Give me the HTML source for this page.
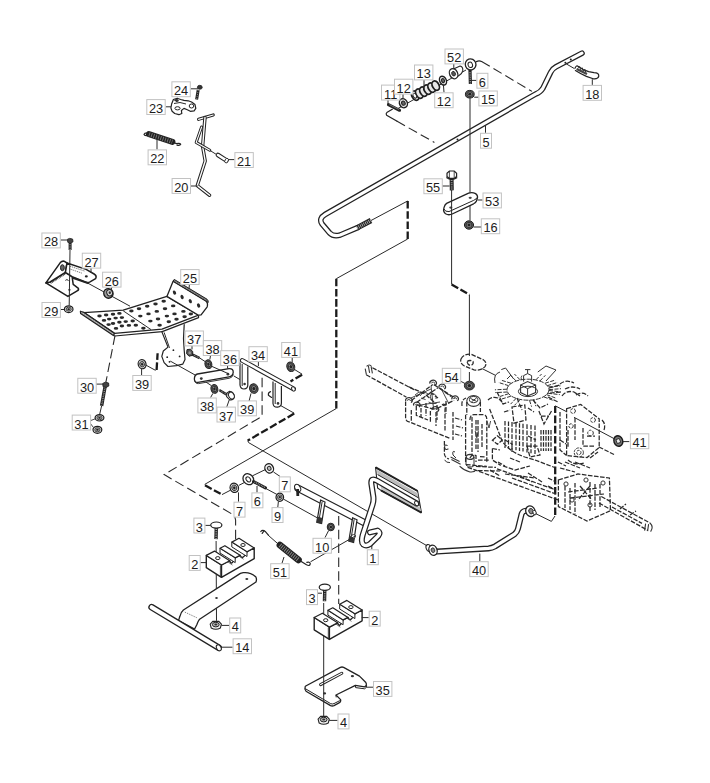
<!DOCTYPE html>
<html><head><meta charset="utf-8"><title>Parts diagram</title><style>
*{margin:0;padding:0}
html,body{width:710px;height:783px;background:#fff;overflow:hidden}
svg{display:block}
.lb{fill:#fff;stroke:#c2c2c2;stroke-width:1}
.lt{font-family:"Liberation Sans",sans-serif;font-size:13.6px;fill:#1c1c1c;text-anchor:middle}
.ln{fill:none;stroke:#222;stroke-width:1.2;stroke-linejoin:round;stroke-linecap:round}
.th{fill:none;stroke:#2a2a2a;stroke-width:1}
.dsh{fill:none;stroke:#2a2a2a;stroke-width:1.1;stroke-dasharray:9.5 4.3}
.dsh2{fill:none;stroke:#2a2a2a;stroke-width:1;stroke-dasharray:3.5 2}
.hd{fill:none;stroke:#1a1a1a;stroke-width:2.3;stroke-dasharray:7.6 2.6}
.ph{fill:none;stroke:#2a2a2a;stroke-width:1.25;stroke-dasharray:4.6 1.5}
</style></head>
<body><svg width="710" height="783" viewBox="0 0 710 783">
<rect width="710" height="783" fill="#fff"/>
<path d="M190.8,88.8 L198.0,88.8" class="th"/>
<path d="M198.2,90 L196.6,99.6" stroke="#222" stroke-width="3" fill="none"/>
<path d="M198.2,90 L196.6,99.6" stroke="#888" stroke-width="1" fill="none" stroke-dasharray="1 1"/>
<ellipse cx="199.8" cy="87.3" rx="2.4" ry="2" fill="#333" stroke="#222" stroke-width="0.8"/>
<path d="M173.4,99.5 L177.2,98.2 L180.6,99.5 L184,100.4 L188.2,100.8 L191.6,102 L195,104.6 L195.8,108.4 L194.1,110.9 L190.3,111.3 L187.3,109.7 L184,108.4 L181.4,110.5 L181.8,113.5 L178.9,114.7 L174.7,113.5 L172.1,111.3 L170.9,108 L171.7,103.7 Z" class="ln" fill="#fff" stroke-width="1.3"/>
<path d="M174,103.5 L180,102.5 L186,104 M176,101.5 L178.5,101 " class="th" />
<ellipse cx="177.5" cy="108.3" rx="2.6" ry="1.6" fill="#fff" stroke="#222" stroke-width="1"/>
<ellipse cx="191.5" cy="106" rx="2.3" ry="2" fill="#fff" stroke="#222" stroke-width="1"/>
<ellipse cx="176.5" cy="100.2" rx="2" ry="1.2" fill="#333"/>
<path d="M165.8,106.8 L171.0,106.8" class="th"/>
<path d="M149,134.2 L172.4,141.8" stroke="#222" stroke-width="6" stroke-linecap="round" fill="none"/>
<path d="M149,134.2 L172.4,141.8" stroke="#7a7a7a" stroke-width="4.2" stroke-dasharray="0.9 1.5" fill="none"/>
<path d="M148.5,133 Q144.5,132.6 144,134.4 Q144.3,135.8 147,135.5" class="ln" />
<path d="M173,142.3 L176.5,143.6 Q180,142.8 180.7,144.3 Q180,145.9 177,145.1" class="ln" />
<path d="M157.0,138.0 L157.0,149.4" class="th"/>
<path d="M198.6,119.3 L213.2,115" fill="none" stroke="#222" stroke-width="3.2" stroke-linecap="round" stroke-linejoin="round"/>
<path d="M198.6,119.3 L213.2,115" fill="none" stroke="#fff" stroke-width="1.2000000000000002" stroke-linecap="round" stroke-linejoin="round"/>
<path d="M205,117.5 L202.6,146.4 L205.2,161 L197.3,185.6 L209.6,195.3" fill="none" stroke="#222" stroke-width="3.4" stroke-linecap="round" stroke-linejoin="round"/>
<path d="M205,117.5 L202.6,146.4 L205.2,161 L197.3,185.6 L209.6,195.3" fill="none" stroke="#fff" stroke-width="1.4" stroke-linecap="round" stroke-linejoin="round"/>
<path d="M201.6,127 L196.2,142.4 L209.8,150.3" fill="none" stroke="#222" stroke-width="3.0" stroke-linecap="round" stroke-linejoin="round"/>
<path d="M201.6,127 L196.2,142.4 L209.8,150.3" fill="none" stroke="#fff" stroke-width="1.1" stroke-linecap="round" stroke-linejoin="round"/>
<path d="M209.8,150.3 L217.5,155.2" class="th"/>
<path d="M218,155 L226.3,160.4" stroke="#222" stroke-width="4.6" stroke-linecap="round" fill="none"/>
<path d="M218,155 L226.3,160.4" stroke="#fff" stroke-width="2.6" stroke-linecap="round" fill="none"/>
<ellipse cx="226.6" cy="160.6" rx="1.6" ry="2.4" transform="rotate(33 226.6 160.6)" fill="#fff" stroke="#222" stroke-width="0.9"/>
<path d="M228.5,159.6 L234.4,159.6" class="th"/>
<path d="M190.5,186.0 L197.8,186.0" class="th"/>
<path d="M582,53.2 L556,66.8 Q552.2,68.8 550.6,72.4 L542.8,88.4 Q540.6,92.2 535.5,94.1 L325.4,214.3 Q318.4,218.5 322,223.9 L329.6,232.9 Q333.8,237 340.2,235 L357.6,227.6" fill="none" stroke="#222" stroke-width="5.6" stroke-linecap="round" stroke-linejoin="round"/>
<path d="M582,53.2 L556,66.8 Q552.2,68.8 550.6,72.4 L542.8,88.4 Q540.6,92.2 535.5,94.1 L325.4,214.3 Q318.4,218.5 322,223.9 L329.6,232.9 Q333.8,237 340.2,235 L357.6,227.6" fill="none" stroke="#fff" stroke-width="3.0999999999999996" stroke-linecap="round" stroke-linejoin="round"/>
<path d="M357,227.9 L371,220.5" stroke="#222" stroke-width="5.4" fill="none"/>
<path d="M357,227.9 L371,220.5" stroke="#bbb" stroke-width="3.4" stroke-dasharray="0.8 1.1" fill="none"/>
<circle cx="457.5" cy="139.6" r="1" fill="#222"/>
<circle cx="565.4" cy="62.8" r="1" fill="#222"/><circle cx="570.8" cy="59.6" r="1" fill="#222"/>
<path d="M485.5,125.5 L485.5,132.8" class="th"/>
<path d="M566.5,64.0 L574.4,68.6" class="th"/>
<path d="M575,68.2 Q576.4,64.6 578.4,66.6 L583.2,69.6 Q586,70.4 588.6,71.6 L594,72.6 Q599,72.8 598.8,76.2 Q598,79.4 593.2,78.8 L586.4,76.4 Q580,73.6 575.4,70.6" class="ln" stroke-width="1.3"/>
<path d="M578,68.4 L579.6,66.6 L580.6,69.6 L582.2,67.8 L583.2,71 L585,69.4 L585.8,72.4" class="th" />
<path d="M576.6,69 L587,74" stroke="#444" stroke-width="2.2" fill="none"/>
<path d="M592.3,79.2 L592.3,84.9" class="th"/>
<path d="M392.3,109.3 L386.8,112.6 Q385.6,113.6 386.6,115.2 L396.7,121.1" class="ln" />
<path d="M396.7,121.1 L434.4,142.4" class="dsh" />
<path d="M476.4,61.6 Q479,60.4 481.6,61.5" class="ln" />
<path d="M481.6,61.5 L532,91.4" class="dsh" />
<path d="M398.0,108.5 L466.0,70.0" class="th"/>
<path d="M388.4,104.6 L399.6,110.3" stroke="#222" stroke-width="3" stroke-linecap="round" fill="none"/>
<path d="M389.4,104.6 L399,109.5" stroke="#888" stroke-width="0.8" fill="none"/>
<g transform="translate(403.4,103.2) rotate(-25)"><ellipse rx="3.9" ry="4.7" fill="#e4e4e4" stroke="#1e1e1e" stroke-width="1.4"/><ellipse rx="1.75" ry="2.12" fill="#666" stroke="#222" stroke-width="1"/></g>
<ellipse cx="415.2" cy="95.6" rx="3.3" ry="5" transform="rotate(-28 415.2 95.6)" fill="#e8e8e8" stroke="#1e1e1e" stroke-width="1.75"/>
<ellipse cx="419.3" cy="93.6" rx="3.3" ry="5" transform="rotate(-28 419.3 93.6)" fill="#e8e8e8" stroke="#1e1e1e" stroke-width="1.75"/>
<ellipse cx="423.4" cy="91.6" rx="3.3" ry="5" transform="rotate(-28 423.4 91.6)" fill="#e8e8e8" stroke="#1e1e1e" stroke-width="1.75"/>
<ellipse cx="427.5" cy="89.6" rx="3.3" ry="5" transform="rotate(-28 427.5 89.6)" fill="#e8e8e8" stroke="#1e1e1e" stroke-width="1.75"/>
<ellipse cx="431.6" cy="87.6" rx="3.3" ry="5" transform="rotate(-28 431.6 87.6)" fill="#e8e8e8" stroke="#1e1e1e" stroke-width="1.75"/>
<ellipse cx="435.7" cy="85.6" rx="3.3" ry="5" transform="rotate(-28 435.7 85.6)" fill="#e8e8e8" stroke="#1e1e1e" stroke-width="1.75"/>
<ellipse cx="414.8" cy="95.8" rx="1.6" ry="2.5" transform="rotate(-28 414.8 95.8)" fill="#fff" stroke="#222" stroke-width="0.9"/>
<g transform="translate(443,80.6) rotate(-25)"><ellipse rx="3.3" ry="4.6" fill="#e4e4e4" stroke="#1e1e1e" stroke-width="1.4"/><ellipse rx="1.48" ry="2.07" fill="#666" stroke="#222" stroke-width="1"/></g>
<path d="M453.5,69 L460,66 Q463,66.5 462.8,70.5 Q462,74 459,75.5 L455,78" fill="#fff" stroke="#222" stroke-width="1.1"/>
<ellipse cx="453.6" cy="73.7" rx="4" ry="5.3" transform="rotate(-25 453.6 73.7)" fill="#fff" stroke="#222" stroke-width="1.3"/>
<ellipse cx="453.6" cy="73.7" rx="1.8" ry="2.4" transform="rotate(-25 453.6 73.7)" fill="#555" stroke="#222" stroke-width="0.8"/>
<ellipse cx="470.6" cy="64.4" rx="5.3" ry="5.6" transform="rotate(-20 470.6 64.4)" fill="#fff" stroke="#222" stroke-width="1.3"/>
<ellipse cx="470.3" cy="64.8" rx="2.2" ry="2.8" transform="rotate(-20 470.3 64.8)" fill="#fff" stroke="#222" stroke-width="1"/>
<path d="M470,69.8 L470.4,84" stroke="#222" stroke-width="3.2" fill="none"/>
<path d="M470,72 L470.4,84" stroke="#aaa" stroke-width="1.4" stroke-dasharray="0.8 1" fill="none"/>
<path d="M470.8,80.4 L476.4,80.4" class="th"/>
<g transform="translate(469.8,94.2) rotate(0)"><ellipse rx="4.4" ry="3.8" fill="#555" stroke="#222" stroke-width="1"/><ellipse rx="2.73" ry="2.36" fill="#999" stroke="#222" stroke-width="0.8"/><ellipse rx="1.56" ry="1.35" fill="#222"/></g>
<path d="M474.2,97.2 L478.4,97.2" class="th"/>
<path d="M453.8,64.1 L453.8,69.2" class="th"/>
<path d="M424.0,80.1 L424.0,89.0" class="th"/>
<path d="M403.0,94.3 L403.0,98.3" class="th"/>
<path d="M388.0,100.2 L388.0,104.0" class="th"/>
<path d="M444.0,92.3 L443.4,84.8" class="th"/>
<path d="M470.0,98.0 L470.0,220.5" class="th"/>
<path d="M451.6,178.5 L451.8,190.4" stroke="#222" stroke-width="4" fill="none"/>
<path d="M451.6,180 L451.8,190.4" stroke="#999" stroke-width="1.8" stroke-dasharray="0.9 1" fill="none"/>
<path d="M447,173.2 L449.4,171 L454.2,171 L456.6,173.2 L456.6,176.6 L454.2,178.4 L449.4,178.4 L447,176.6 Z" fill="#fff" stroke="#222" stroke-width="1.2"/>
<path d="M449.4,171 L449.4,178.4 M454.2,171 L454.2,178.4" stroke="#222" stroke-width="0.8" fill="none"/>
<path d="M446.4,177.4 Q451.8,181.4 457.2,177.4" fill="none" stroke="#222" stroke-width="1.2"/>
<path d="M442.0,186.0 L449.5,186.0" class="th"/>
<path d="M446.6,203.4 L468.6,193.2 Q472,191.8 475.6,193.6 Q478.4,195.6 477.2,198.8 L476.3,201.4 Q475.4,202.8 473.6,203.8 L452.2,214 Q448.6,215.6 445.6,213.8 Q442.8,211.6 444,207.6 Q444.8,204.6 446.6,203.4 Z" fill="#fff" stroke="#222" stroke-width="1.3"/>
<path d="M444,209 Q445,212 449,211.6 L473.6,200.4 Q476.6,199 477.2,197.4" fill="none" stroke="#222" stroke-width="1"/>
<ellipse cx="450.8" cy="207.6" rx="1.6" ry="1.1" fill="#444"/><ellipse cx="470.2" cy="197.8" rx="1.6" ry="1.1" fill="#444"/>
<path d="M477.6,200.0 L482.5,200.0" class="th"/>
<g transform="translate(469,225) rotate(0)"><ellipse rx="4.6" ry="4.2" fill="#555" stroke="#222" stroke-width="1"/><ellipse rx="2.85" ry="2.60" fill="#999" stroke="#222" stroke-width="0.8"/><ellipse rx="1.64" ry="1.49" fill="#222"/></g>
<path d="M473.6,227.0 L482.0,227.0" class="th"/>
<path d="M451.6,190.0 L451.6,284.4" class="th"/>
<path d="M451.6,284.4 L469.4,294.7" class="hd" />
<path d="M469.4,294.7 L469.4,356.0" class="th"/>
<path d="M461,359 Q464,353.6 471,354.2 L483,359.6 Q487.6,362.6 485,366.6 Q481,371 474,369.8 L464.4,366 Q459.6,363 461,359 Z" class="ph" />
<path d="M467,361.5 Q470,359.5 473,361.5 Q474,364.5 470.5,365.6 Q467.5,365 467,361.5" class="ph" />
<path d="M469.4,372.0 L469.4,381.0" class="th"/>
<g transform="translate(469.4,385.6) rotate(0)"><ellipse rx="5" ry="4.4" fill="#555" stroke="#222" stroke-width="1"/><ellipse rx="3.10" ry="2.73" fill="#999" stroke="#222" stroke-width="0.8"/><ellipse rx="1.78" ry="1.56" fill="#222"/></g>
<path d="M460.2,381.0 L465.0,383.5" class="th"/>
<path d="M371.0,220.5 L407.6,201.0" class="th"/>
<path d="M407.7,201 L407.7,239" class="hd" />
<path d="M407.7,239.0 L336.3,278.7" class="th"/>
<path d="M336.3,278.7 L336.3,408.5" class="hd" />
<path d="M336.3,408.5 L204.7,484.4" class="th"/>
<path d="M205,485.3 L222,494.6" class="hd" />
<path d="M222.0,494.6 L230.5,490.2" class="th"/>
<path d="M278.4,404.3 L294.2,413.2" class="th"/>
<path d="M294.2,413.6 L247.7,440.6" class="hd" />
<path d="M247.7,440.6 L248.6,442.6 L426.0,545.2" class="th"/>
<path d="M262.1,377.7 L262.1,416.3 L164.1,474.6 L234.5,515.5 L235.6,520 L235.6,546" class="dsh" />
<path d="M294.2,369.3 L302.1,374.2" class="th"/>
<path d="M302.1,374.7 L290.5,381.5" class="hd" />
<path d="M258.4,361.7 L258.4,366.0" class="th"/>
<path d="M240,362.5 L240,385 Q240.5,389 244,389 Q247.8,388.6 247.8,385 L247.8,366.5" fill="#fff" stroke="#222" stroke-width="1.2"/>
<path d="M242.2,364.0 L242.2,386.0" class="th"/>
<circle cx="244.6" cy="384" r="1.3" fill="#333"/>
<path d="M273,381.5 L273,403.5 Q273.5,407.4 277.5,407.2 Q281.4,406.8 281.4,403 L281.4,386" fill="#fff" stroke="#222" stroke-width="1.2"/>
<path d="M275.2,383.0 L275.2,404.0" class="th"/>
<circle cx="278" cy="403.4" r="1.3" fill="#333"/>
<path d="M270.5,391.6 Q268,392.5 268.4,395.2 L271.6,397.4" class="ln" />
<path d="M242.3,360.5 L293.5,388.8" fill="none" stroke="#222" stroke-width="4.8" stroke-linecap="round" stroke-linejoin="round"/>
<path d="M242.3,360.5 L293.5,388.8" fill="none" stroke="#fff" stroke-width="2.6999999999999997" stroke-linecap="round" stroke-linejoin="round"/>
<ellipse cx="293.4" cy="388.9" rx="1.6" ry="2.3" transform="rotate(-30 293.4 388.9)" fill="#fff" stroke="#222" stroke-width="0.9"/>
<g transform="translate(253.8,388.6) rotate(-15)"><ellipse rx="4.2" ry="4.8" fill="#555" stroke="#222" stroke-width="1"/><ellipse rx="2.60" ry="2.98" fill="#999" stroke="#222" stroke-width="0.8"/><ellipse rx="1.49" ry="1.71" fill="#222"/></g>
<path d="M251.0,393.4 L248.8,402.1" class="th"/>
<g transform="translate(290.8,366.8) rotate(-20)"><ellipse rx="3.9" ry="4.9" fill="#555" stroke="#222" stroke-width="1"/><ellipse rx="2.42" ry="3.04" fill="#999" stroke="#222" stroke-width="0.8"/><ellipse rx="1.39" ry="1.74" fill="#222"/></g>
<path d="M292.2,357.6 L292.2,362.0" class="th"/>
<path d="M161.8,331.6 L168,347.1 L163.3,351 L161.8,356.4 L164.1,362.6 L168,366.5 L176.5,365.7 L182.7,364.2 L185,359.5 L184.2,350.2 L183.5,338.6 L184.2,324.6" class="ln" fill="#fff" stroke-width="1.3"/>
<path d="M164.1,332.4 L169.5,347.9" class="th"/>
<circle cx="167.2" cy="357.2" r="0.9" fill="#222"/>
<circle cx="169.5" cy="361.8" r="0.9" fill="#222"/>
<circle cx="173.4" cy="350.2" r="0.9" fill="#222"/>
<circle cx="179.6" cy="356.4" r="0.9" fill="#222"/>
<path d="M170.3,361.1 L195.1,375.0" class="th"/>
<path d="M197.5,374 L229,368.6 Q233.6,368.4 233.2,372.6 Q232.6,376.2 229,376.8 L198,382.4 Q194,382.8 194.4,378.4 Q194.8,374.6 197.5,374 Z" fill="#fff" stroke="#222" stroke-width="1.3"/>
<path d="M194.6,379.8 Q195.2,384 198.6,383.6 L229.6,378.2 Q232.8,377.4 233.2,374" fill="none" stroke="#222" stroke-width="0.9"/>
<circle cx="201.3" cy="378.6" r="1.4" fill="#333"/><circle cx="227.9" cy="374.2" r="1.4" fill="#333"/>
<path d="M233.6,375.8 L240.0,379.6" class="th"/>
<path d="M227.6,365.8 L227.6,368.6" class="th"/>
<path d="M199.7,358.0 L205.0,361.5" class="th"/>
<path d="M211.0,366.0 L228.0,373.5" class="th"/>
<path d="M192,354.4 L199.7,358.2" stroke="#222" stroke-width="2.6" fill="none"/>
<path d="M192.5,354.6 L199.5,358" stroke="#aaa" stroke-width="1" stroke-dasharray="0.8 0.9" fill="none"/>
<path d="M187,349.6 L190.6,349.2 L192.8,351.8 L192.4,355.4 L189,356.2 L186.6,353.6 Z" fill="#555" stroke="#222" stroke-width="1"/>
<ellipse cx="189.7" cy="352.7" rx="1.3" ry="1.5" fill="#999"/>
<path d="M192.0,345.1 L192.0,349.4" class="th"/>
<g transform="translate(208.4,364.2) rotate(-15)"><ellipse rx="3.4" ry="4.4" fill="#555" stroke="#222" stroke-width="1"/><ellipse rx="2.11" ry="2.73" fill="#999" stroke="#222" stroke-width="0.8"/><ellipse rx="1.21" ry="1.56" fill="#222"/></g>
<path d="M210.6,355.2 L209.8,359.6" class="th"/>
<path d="M205.9,382.0 L211.0,385.4" class="th"/>
<g transform="translate(214.4,388.9) rotate(-15)"><ellipse rx="3.4" ry="4.4" fill="#555" stroke="#222" stroke-width="1"/><ellipse rx="2.11" ry="2.73" fill="#999" stroke="#222" stroke-width="0.8"/><ellipse rx="1.21" ry="1.56" fill="#222"/></g>
<path d="M219.2,390 L226.8,394.6" stroke="#222" stroke-width="2.6" fill="none"/>
<path d="M219.4,390.2 L226.6,394.4" stroke="#aaa" stroke-width="1" stroke-dasharray="0.8 0.9" fill="none"/>
<path d="M227,393 L229.5,391.4 Q234.6,392.4 234.2,397.2 Q233,400.6 229.4,399.6 L226.6,396.6 Z" fill="#fff" stroke="#222" stroke-width="1.1"/>
<ellipse cx="231.4" cy="395.6" rx="2.6" ry="3.6" transform="rotate(-30 231.4 395.6)" fill="#fff" stroke="#222" stroke-width="1"/>
<path d="M212.9,393.4 L210.6,397.5" class="th"/>
<path d="M229.2,400.0 L226.8,406.8" class="th"/>
<g transform="translate(142.1,364.2) rotate(-15)"><ellipse rx="3.9" ry="4.6" fill="#e6e6e6" stroke="#1e1e1e" stroke-width="1.2"/><ellipse rx="2.34" ry="2.76" fill="#aaa" stroke="#333" stroke-width="0.9"/><ellipse rx="1.09" ry="1.29" fill="#222"/></g>
<path d="M141.6,368.8 L141.6,375.0" class="th"/>
<path d="M145.5,364.9 L155.6,370.4" class="th"/>
<path d="M156.6,370 L157.6,353.3" class="hd" />
<path d="M84,312.6 L123.2,310.2 L166.9,296.4 L198.5,315.2 L162,329.2 L114.6,333.4 Z" fill="#fff" stroke="#222" stroke-width="1.3" stroke-linejoin="round"/>
<path d="M113.4,335.4 L114.8,336 L162.2,331.6 L198.6,317.6 L198.5,315.2" fill="none" stroke="#222" stroke-width="1.2" stroke-linejoin="round"/>
<path d="M80.4,311.2 L84,312.4 L114.6,333.4 L113.4,335.4 L80.6,313.6 Z" fill="#9a9a9a" stroke="#222" stroke-width="1.2" stroke-linejoin="round"/>
<path d="M81.4,312.2 L114,334.4" stroke="#eee" stroke-width="0.6" stroke-dasharray="1 1.2" fill="none"/>
<path d="M166.9,296.4 L173.1,281.2 L205.4,300.6 Q208.4,303 207.2,306.8 L201.1,314.8 L198.5,315.2 Z" fill="#fff" stroke="#222" stroke-width="1.3" stroke-linejoin="round"/>
<path d="M173.1,281.2 L174.2,279.4 L207,299.2 Q208.6,300.6 208.2,302.6 L205.4,300.6 Z" fill="#666" stroke="#222" stroke-width="1"/>
<path d="M174.6,281 L206,300" stroke="#ccc" stroke-width="0.7" stroke-dasharray="0.9 1" fill="none"/>
<path d="M123.2,310.8 L151.0,329.6" class="th"/>
<ellipse cx="106.1" cy="315.0" rx="2.25" ry="1.45" fill="#2a2a2a"/>
<ellipse cx="113.0" cy="314.3" rx="2.25" ry="1.45" fill="#2a2a2a"/>
<ellipse cx="119.4" cy="313.4" rx="2.25" ry="1.45" fill="#2a2a2a"/>
<ellipse cx="109.2" cy="319.1" rx="2.25" ry="1.45" fill="#2a2a2a"/>
<ellipse cx="115.6" cy="318.1" rx="2.25" ry="1.45" fill="#2a2a2a"/>
<ellipse cx="121.9" cy="317.6" rx="2.25" ry="1.45" fill="#2a2a2a"/>
<ellipse cx="113.0" cy="323.5" rx="2.25" ry="1.45" fill="#2a2a2a"/>
<ellipse cx="119.4" cy="322.2" rx="2.25" ry="1.45" fill="#2a2a2a"/>
<ellipse cx="125.7" cy="321.6" rx="2.25" ry="1.45" fill="#2a2a2a"/>
<ellipse cx="132.7" cy="321.0" rx="2.25" ry="1.45" fill="#2a2a2a"/>
<ellipse cx="121.9" cy="326.0" rx="2.25" ry="1.45" fill="#2a2a2a"/>
<ellipse cx="128.9" cy="325.4" rx="2.25" ry="1.45" fill="#2a2a2a"/>
<ellipse cx="135.8" cy="325.2" rx="2.25" ry="1.45" fill="#2a2a2a"/>
<ellipse cx="143.4" cy="328.2" rx="2.25" ry="1.45" fill="#2a2a2a"/>
<ellipse cx="99.5" cy="316.0" rx="2.25" ry="1.45" fill="#2a2a2a"/>
<ellipse cx="104.0" cy="320.4" rx="2.25" ry="1.45" fill="#2a2a2a"/>
<ellipse cx="108.6" cy="324.6" rx="2.25" ry="1.45" fill="#2a2a2a"/>
<ellipse cx="116.0" cy="328.4" rx="2.25" ry="1.45" fill="#2a2a2a"/>
<ellipse cx="131.4" cy="311.0" rx="2.25" ry="1.45" fill="#2a2a2a"/>
<ellipse cx="139.0" cy="308.8" rx="2.25" ry="1.45" fill="#2a2a2a"/>
<ellipse cx="147.2" cy="306.3" rx="2.25" ry="1.45" fill="#2a2a2a"/>
<ellipse cx="155.5" cy="304.0" rx="2.25" ry="1.45" fill="#2a2a2a"/>
<ellipse cx="163.7" cy="301.2" rx="2.25" ry="1.45" fill="#2a2a2a"/>
<ellipse cx="140.3" cy="316.1" rx="2.25" ry="1.45" fill="#2a2a2a"/>
<ellipse cx="148.5" cy="313.9" rx="2.25" ry="1.45" fill="#2a2a2a"/>
<ellipse cx="156.8" cy="311.4" rx="2.25" ry="1.45" fill="#2a2a2a"/>
<ellipse cx="165.0" cy="308.8" rx="2.25" ry="1.45" fill="#2a2a2a"/>
<ellipse cx="173.2" cy="305.9" rx="2.25" ry="1.45" fill="#2a2a2a"/>
<ellipse cx="150.4" cy="321.1" rx="2.25" ry="1.45" fill="#2a2a2a"/>
<ellipse cx="158.0" cy="319.0" rx="2.25" ry="1.45" fill="#2a2a2a"/>
<ellipse cx="166.9" cy="316.1" rx="2.25" ry="1.45" fill="#2a2a2a"/>
<ellipse cx="174.5" cy="313.9" rx="2.25" ry="1.45" fill="#2a2a2a"/>
<ellipse cx="183.4" cy="311.4" rx="2.25" ry="1.45" fill="#2a2a2a"/>
<ellipse cx="159.6" cy="325.2" rx="2.25" ry="1.45" fill="#2a2a2a"/>
<ellipse cx="168.8" cy="321.8" rx="2.25" ry="1.45" fill="#2a2a2a"/>
<ellipse cx="176.5" cy="319.3" rx="2.25" ry="1.45" fill="#2a2a2a"/>
<ellipse cx="184.6" cy="316.7" rx="2.25" ry="1.45" fill="#2a2a2a"/>
<ellipse cx="190.8" cy="314.0" rx="2.25" ry="1.45" fill="#2a2a2a"/>
<ellipse cx="174.5" cy="292.6" rx="1.5" ry="2.2" transform="rotate(-25 174.5 292.6)" fill="#2a2a2a"/>
<ellipse cx="182.1" cy="297.0" rx="1.5" ry="2.2" transform="rotate(-25 182.1 297.0)" fill="#2a2a2a"/>
<ellipse cx="190.3" cy="301.2" rx="1.5" ry="2.2" transform="rotate(-25 190.3 301.2)" fill="#2a2a2a"/>
<ellipse cx="198.6" cy="305.5" rx="1.5" ry="2.2" transform="rotate(-25 198.6 305.5)" fill="#2a2a2a"/>
<path d="M189.4,284.4 L189.0,289.0" class="th"/>
<path d="M45.9,282.9 L50.1,282 L65.4,272.3 L72.1,276.6 L73.2,284.4 L78.4,288.4 Q79,290 77.2,290.8 L67.9,296.4 Z" fill="#fff" stroke="#1e1e1e" stroke-width="1.5" stroke-linejoin="round"/>
<path d="M45.9,282.9 L60.3,262.6 Q62,260.8 64,261.2 L67,263 L65.4,272.3 L50.1,282 Z" fill="#fff" stroke="#1e1e1e" stroke-width="1.5" stroke-linejoin="round"/>
<path d="M67,263 L86.1,269.4 L94.1,274 Q97.2,276 95.6,278.6 L89.6,282.2 Q88,283 86,282.2 L72.1,276.6 L65.4,272.3 Z" fill="#fff" stroke="#1e1e1e" stroke-width="1.5" stroke-linejoin="round"/>
<path d="M50.6,283.2 L66,273.4" stroke="#333" stroke-width="1.6" stroke-dasharray="0.8 0.8" fill="none"/>
<path d="M72.6,277.8 L88.6,283.4" stroke="#222" stroke-width="1.8" fill="none"/>
<path d="M70,266.2 L84.4,271 M69.4,268.8 L82.6,273.4" stroke="#555" stroke-width="0.8" stroke-dasharray="1.2 0.8" fill="none"/>
<ellipse cx="62.4" cy="267.7" rx="1.9" ry="3" fill="#666" stroke="#1e1e1e" stroke-width="1"/>
<ellipse cx="86.3" cy="276.4" rx="1.5" ry="1.1" fill="#222"/>
<path d="M65.4,280.4 Q66.8,278.6 68.6,280.6" stroke="#222" stroke-width="1" fill="none"/>
<ellipse cx="69.4" cy="289.8" rx="1.2" ry="0.9" fill="#222"/>
<path d="M91.0,268.2 L91.0,273.0" class="th"/>
<path d="M70.1,243 L70.1,250" stroke="#222" stroke-width="3" fill="none"/>
<path d="M70.1,244 L70.1,250" stroke="#aaa" stroke-width="1.2" stroke-dasharray="0.8 0.9" fill="none"/>
<path d="M67.4,239.3 L69.6,238.4 L72.6,239.1 L73,241.8 L70.8,243 L67.8,242.3 Z" fill="#444" stroke="#222" stroke-width="0.9"/>
<path d="M70.0,250.0 L69.2,305.5" class="th"/>
<path d="M60.7,240.0 L67.2,240.0" class="th"/>
<g transform="translate(68.7,309.2) rotate(0)"><ellipse rx="4.3" ry="3.4" fill="#e6e6e6" stroke="#1e1e1e" stroke-width="1.2"/><ellipse rx="2.58" ry="2.04" fill="#aaa" stroke="#333" stroke-width="0.9"/><ellipse rx="1.20" ry="0.95" fill="#222"/></g>
<path d="M60.7,309.5 L64.6,309.5" class="th"/>
<path d="M86.3,282.3 L130.0,306.2" class="th"/>
<ellipse cx="108.4" cy="293.4" rx="4.6" ry="4.8" transform="rotate(-20 108.4 293.4)" fill="#9a9a9a" stroke="#1a1a1a" stroke-width="1.4"/>
<ellipse cx="109.6" cy="292.8" rx="2.8" ry="3.2" transform="rotate(-20 109.6 292.8)" fill="#d8d8d8" stroke="#222" stroke-width="1"/>
<ellipse cx="109.8" cy="292.7" rx="1.2" ry="1.4" fill="#333"/>
<path d="M112.0,287.2 L111.0,289.5" class="th"/>
<path d="M115,335.6 L105.8,382.7" class="dsh" />
<path d="M105.1,386.5 L101.6,405.9" stroke="#222" stroke-width="3.4" fill="none"/>
<path d="M105,387.5 L101.7,405.4" stroke="#aaa" stroke-width="1.5" stroke-dasharray="0.8 1" fill="none"/>
<path d="M102.8,383.4 L105.4,382.2 L108.6,383 L108.8,386 L106.2,387.4 L103,386.6 Z" fill="#444" stroke="#222" stroke-width="0.9"/>
<path d="M101.6,406.0 L99.6,414.6" class="th"/>
<g transform="translate(99.5,417.8) rotate(0)"><ellipse rx="4.4" ry="3.2" fill="#e6e6e6" stroke="#1e1e1e" stroke-width="1.2"/><ellipse rx="2.64" ry="1.92" fill="#aaa" stroke="#333" stroke-width="0.9"/><ellipse rx="1.23" ry="0.90" fill="#222"/></g>
<g transform="translate(97.4,429.8) rotate(0)"><ellipse rx="4.4" ry="3.5" fill="#e6e6e6" stroke="#1e1e1e" stroke-width="1.2"/><ellipse rx="2.64" ry="2.10" fill="#aaa" stroke="#333" stroke-width="0.9"/><ellipse rx="1.23" ry="0.98" fill="#222"/></g>
<path d="M96,418.5 L88.8,421.3 L93.2,427.2" fill="none" stroke="#333" stroke-width="0.9"/>
<path d="M94.7,384.1 L103.2,384.1" class="th"/>
<g transform="translate(234.3,487.8) rotate(-20)"><ellipse rx="4.2" ry="4.7" fill="#e6e6e6" stroke="#1e1e1e" stroke-width="1.2"/><ellipse rx="2.52" ry="2.82" fill="#aaa" stroke="#333" stroke-width="0.9"/><ellipse rx="1.18" ry="1.32" fill="#222"/></g>
<path d="M238.5,492.4 L238.5,501.7" class="th"/>
<path d="M239.0,485.3 L244.0,482.7" class="th"/>
<ellipse cx="248.3" cy="479.2" rx="5" ry="5.8" transform="rotate(-40 248.3 479.2)" fill="#fff" stroke="#222" stroke-width="1.3"/>
<ellipse cx="248.3" cy="479.4" rx="2" ry="2.8" transform="rotate(-40 248.3 479.4)" fill="#fff" stroke="#222" stroke-width="1"/>
<path d="M253.6,481.6 L265.4,487.8" stroke="#222" stroke-width="3.2" stroke-linecap="round" fill="none"/>
<path d="M254.6,482 L265,487.5" stroke="#aaa" stroke-width="1.4" stroke-dasharray="0.8 1" fill="none"/>
<path d="M257.0,486.0 L257.0,492.4" class="th"/>
<path d="M252.5,475.8 L265.5,469.5" class="th"/>
<g transform="translate(269.2,468.4) rotate(-30)"><ellipse rx="4.2" ry="4.8" fill="#f4f4f4" stroke="#1e1e1e" stroke-width="1.3"/><ellipse rx="1.8" ry="2.1" fill="#bbb" stroke="#222" stroke-width="0.9"/></g>
<path d="M273.5,472.0 L280.0,476.4" class="th"/>
<path d="M266.0,488.6 L277.0,494.5" class="th"/>
<g transform="translate(279.8,497.2) rotate(0)"><ellipse rx="3.8" ry="4.1" fill="#e6e6e6" stroke="#1e1e1e" stroke-width="1.2"/><ellipse rx="2.28" ry="2.46" fill="#aaa" stroke="#333" stroke-width="0.9"/><ellipse rx="1.06" ry="1.15" fill="#222"/></g>
<path d="M278.4,501.4 L277.8,507.1" class="th"/>
<path d="M283.6,499.2 L318.5,518.5" class="th"/>
<path d="M298,488.2 L363.5,522.2" fill="none" stroke="#222" stroke-width="7.4" stroke-linecap="round" stroke-linejoin="round"/>
<path d="M298,488.2 L363.5,522.2" fill="none" stroke="#fff" stroke-width="5.1000000000000005" stroke-linecap="round" stroke-linejoin="round"/>
<ellipse cx="297.7" cy="488" rx="2.6" ry="4" transform="rotate(-30 297.7 488)" fill="#fff" stroke="#222" stroke-width="1"/>
<path d="M297.6,489 L297.8,496" stroke="#222" stroke-width="2.8" fill="none"/>
<path d="M320.6,500 L325,502 L321.6,523.6 L316.8,522.2 Z" fill="#fff" stroke="#222" stroke-width="1.2"/>
<path d="M322.2,501.4 L318.6,522.6" class="th"/>
<path d="M317.2,516.4 L322.4,518 L321.6,523.8 L316.6,522.4 Z" fill="#333"/>
<path d="M352.6,517.8 L357,519.8 L353.6,542.4 L348.8,541 Z" fill="#fff" stroke="#222" stroke-width="1.2"/>
<path d="M354.2,519.2 L350.6,541.4" class="th"/>
<path d="M349.4,535.8 L354.6,537.4 L353.6,542.6 L348.6,541.2 Z" fill="#333"/>
<ellipse cx="353.4" cy="536.4" rx="2" ry="1.8" fill="#fff" stroke="#222" stroke-width="0.9"/>
<g transform="translate(330.8,527) rotate(0)"><ellipse rx="3.6" ry="3.8" fill="#555" stroke="#222" stroke-width="1"/><ellipse rx="2.23" ry="2.36" fill="#999" stroke="#222" stroke-width="0.8"/><ellipse rx="1.28" ry="1.35" fill="#222"/></g>
<path d="M328.6,530.6 L325.0,537.6" class="th"/>
<path d="M260.8,531.5 Q262.6,529.2 265.2,531.4 L268.6,535.4 M262.2,533.4 L264.2,530.6" class="ln" />
<path d="M268.6,535.6 L278.4,544.2" class="th"/>
<path d="M280,545.2 L298.4,559.8" stroke="#222" stroke-width="6.8" stroke-linecap="round" fill="none"/>
<path d="M280,545.2 L298.4,559.8" stroke="#8a8a8a" stroke-width="4.6" stroke-dasharray="0.9 1.3" fill="none"/>
<path d="M299.6,560.4 L306.5,564.8 Q310,566.6 310.3,563.6 Q309.6,561.4 306.8,562.4" class="ln" />
<path d="M284.0,557.0 L282.0,563.2" class="th"/>
<path d="M310.5,561.8 L356.0,535.6" class="th"/>
<path d="M371.8,543.5 L371.8,549.3" class="th"/>
<path d="M375.6,467.4 L417.6,491 L421.4,512.6 L381,490.4 L377.6,488 Z" fill="#fff" stroke="#222" stroke-width="1.1" stroke-linejoin="round"/>
<path d="M376.6,469.6 L417.8,493.2 L418.4,497.4 L377.6,474.4 Z" fill="#bdbdbd" stroke="none"/>
<path d="M375.6,467.4 L417.6,491" stroke="#222" stroke-width="2" fill="none"/>
<path d="M377.6,474.6 L418.4,497.8" stroke="#222" stroke-width="1" fill="none"/>
<path d="M380,484.6 L420.2,507.6 L421,511.6 L381.4,489.2 Z" fill="#c4c4c4" stroke="none"/>
<path d="M381,490.4 L421.4,512.6" stroke="#222" stroke-width="1.8" fill="none"/>
<path d="M379.4,482.4 L419.8,505.4" class="th"/>
<path d="M416.5,503.4 L377.6,481 Q370.4,476.8 371.4,484 L373.4,497 Q373.8,501 372.6,504.6 L362.8,534.6 Q360.6,542 363.4,544.6 Q366.4,546.6 370,544 L378.4,535.8 Q381,532.4 377.6,530.6 L370,532.4" fill="none" stroke="#222" stroke-width="6" stroke-linecap="round" stroke-linejoin="round"/>
<path d="M416.5,503.4 L377.6,481 Q370.4,476.8 371.4,484 L373.4,497 Q373.8,501 372.6,504.6 L362.8,534.6 Q360.6,542 363.4,544.6 Q366.4,546.6 370,544 L378.4,535.8 Q381,532.4 377.6,530.6 L370,532.4" fill="none" stroke="#fff" stroke-width="3.5" stroke-linecap="round" stroke-linejoin="round"/>
<ellipse cx="416.6" cy="503.4" rx="1.8" ry="2.5" transform="rotate(-30 416.6 503.4)" fill="#fff" stroke="#222" stroke-width="0.9"/>
<path d="M426.5,545.4 L428.0,547.4" class="th"/>
<path d="M437,551.6 L488.5,548.4 Q492,548 495,546.4 L514.5,534.2 Q517.2,532 518,528.6 L521.6,514 Q522.6,511 526,510.8" fill="none" stroke="#222" stroke-width="6" stroke-linecap="round" stroke-linejoin="round"/>
<path d="M437,551.6 L488.5,548.4 Q492,548 495,546.4 L514.5,534.2 Q517.2,532 518,528.6 L521.6,514 Q522.6,511 526,510.8" fill="none" stroke="#fff" stroke-width="3.4" stroke-linecap="round" stroke-linejoin="round"/>
<ellipse cx="428.6" cy="548" rx="2.4" ry="3.6" transform="rotate(-20 428.6 548)" fill="#fff" stroke="#222" stroke-width="1.1"/>
<ellipse cx="433" cy="550.2" rx="4" ry="5.2" transform="rotate(-20 433 550.2)" fill="#fff" stroke="#222" stroke-width="1.3"/>
<ellipse cx="433" cy="550.2" rx="1.8" ry="2.4" transform="rotate(-20 433 550.2)" fill="#888" stroke="#222" stroke-width="0.8"/>
<ellipse cx="530.4" cy="511.2" rx="4.6" ry="5.4" transform="rotate(-20 530.4 511.2)" fill="#fff" stroke="#222" stroke-width="1.3"/>
<ellipse cx="531" cy="511.2" rx="2.2" ry="2.8" transform="rotate(-20 531 511.2)" fill="#888" stroke="#222" stroke-width="0.8"/>
<ellipse cx="534.6" cy="512.6" rx="1.6" ry="2.4" transform="rotate(-20 534.6 512.6)" fill="#fff" stroke="#222" stroke-width="0.9"/>
<path d="M535.6,513.6 L551.4,521.4 L555.0,516.0" class="th"/>
<path d="M555.2,515 L555.2,406" class="hd" />
<path d="M555.2,405.8 L566.0,411.4" class="th"/>
<path d="M479.8,553.6 L479.8,561.3" class="th"/>
<ellipse cx="618.3" cy="441" rx="4.4" ry="5.3" transform="rotate(-20 618.3 441)" fill="#777" stroke="#1a1a1a" stroke-width="1.4"/>
<rect x="616.5" y="438.9" width="3.6" height="4.2" transform="rotate(-20 618.3 441)" fill="#eee" stroke="#222" stroke-width="0.8"/>
<path d="M574.0,417.3 L614.4,438.8" class="th"/>
<path d="M623.0,441.6 L629.3,441.6" class="th"/>
<path d="M216.1,541.0 L216.5,620.8" class="th"/>
<path d="M243.2,572.7 Q250,571.8 255.9,576.9 Q257,579.5 256,582 L199.6,619.2 Q197.8,621.6 196.8,624.8 L194.6,629 L178.5,620.6 L179.9,616.3 Q181,612 183.4,610 L240.4,573.4 Z" fill="#fff" stroke="#222" stroke-width="1.3" stroke-linejoin="round"/>
<path d="M184.8,612.1 L196.8,617.7" stroke="#666" stroke-width="0.8" stroke-dasharray="1.4 1" fill="none"/>
<ellipse cx="246.8" cy="579" rx="1.5" ry="1.1" fill="#333"/>
<ellipse cx="216.5" cy="598" rx="1.3" ry="0.9" fill="#333"/>
<path d="M151.6,607.2 L218.6,647.6" fill="none" stroke="#222" stroke-width="6.6" stroke-linecap="round" stroke-linejoin="round"/>
<path d="M151.6,607.2 L218.6,647.6" fill="none" stroke="#fff" stroke-width="3.9999999999999996" stroke-linecap="round" stroke-linejoin="round"/>
<ellipse cx="218.8" cy="647.8" rx="2.2" ry="3.2" transform="rotate(-30 218.8 647.8)" fill="#fff" stroke="#222" stroke-width="1"/>
<path d="M221.0,647.2 L232.6,647.2" class="th"/>
<path d="M210.20000000000002,624.1999999999999 L212.8,621.4 L218.8,621.4 L221.4,624.1999999999999 L220.4,628.0 Q215.8,630.6 211.20000000000002,628.0 Z" fill="#f2f2f2" stroke="#222" stroke-width="1.1"/>
<ellipse cx="215.8" cy="624.6" rx="3.4" ry="2.3" fill="#bbb" stroke="#222" stroke-width="1"/>
<ellipse cx="215.8" cy="624.6" rx="1.5" ry="1" fill="#333"/>
<path d="M221.4,625.4 L229.2,625.4" class="th"/>
<path d="M206.3,555.4 L221.5,565.0 L221.5,577.3 L206.3,567.7 Z" fill="#fff" stroke="#222" stroke-width="1.4" stroke-linejoin="round"/>
<path d="M221.5,565.0 L229.7,560.7 Q231.3,566.7 235.2,557.8 L240.1,555.3 Q242.4,560.9 247.0,551.7 L254.2,547.9 L254.2,558.7 L221.5,577.3 Z" fill="#fff" stroke="#222" stroke-width="1.4" stroke-linejoin="round"/>
<path d="M220.0,548.2 L235.2,557.8 L235.2,562.6 L220.0,553.0 Z" fill="#fff" stroke="#222" stroke-width="1" stroke-linejoin="round"/>
<path d="M218.0,555.0 L232.5,565.1" stroke="#555" stroke-width="0.8" fill="none"/>
<path d="M231.8,542.1 L247.0,551.7 L247.0,556.5 L231.8,546.9 Z" fill="#fff" stroke="#222" stroke-width="1" stroke-linejoin="round"/>
<path d="M229.1,549.1 L243.6,559.3" stroke="#555" stroke-width="0.8" fill="none"/>
<path d="M206.3,555.4 L221.5,565.0 L229.7,560.7 L214.5,551.1 Z" fill="#fff" stroke="#222" stroke-width="1.2" stroke-linejoin="round"/>
<path d="M220.0,548.2 L235.2,557.8 L240.1,555.3 L224.9,545.7 Z" fill="#fff" stroke="#222" stroke-width="1.2" stroke-linejoin="round"/>
<path d="M231.8,542.1 L247.0,551.7 L254.2,547.9 L239.0,538.3 Z" fill="#fff" stroke="#222" stroke-width="1.2" stroke-linejoin="round"/>
<ellipse cx="217.8" cy="558.1" rx="2.2" ry="1.5" fill="#fff" stroke="#222" stroke-width="1"/>
<ellipse cx="243.0" cy="545.0" rx="2.2" ry="1.5" fill="#fff" stroke="#222" stroke-width="1"/>
<path d="M220.4,565.5 L220.4,576.2" stroke="#444" stroke-width="0.9" fill="none"/>
<path d="M216.3,527.1 L216.0,539.1" stroke="#222" stroke-width="3.4" fill="none"/>
<path d="M216.3,529.1 L216.0,539.1" stroke="#aaa" stroke-width="1.6" stroke-dasharray="0.8 1" fill="none"/>
<ellipse cx="216.3" cy="525.1" rx="5.6" ry="3.1" fill="#fff" stroke="#222" stroke-width="1.2"/>
<path d="M205.4,525.4 L210.6,525.4" class="th"/>
<path d="M200.4,562.6 L206.6,562.6" class="th"/>
<path d="M305.3,686.3 L340.4,667.4 Q342,666.6 343.6,667.4 L359.5,676.1 L365.6,682.2 Q367.6,685.5 364.6,686.8 L355.4,685.3 L336,695 L340.6,699.6 Q341.2,702 338.6,703.2 L334,705.6 Q332.2,706.4 330.6,705.6 L306,691.2 Q304.2,689 305.3,686.3 Z" fill="#fff" stroke="#222" stroke-width="1.3" stroke-linejoin="round"/>
<path d="M305.2,688.6 L330.6,703.6 Q332.2,704.4 334,703.6 L339.8,700.6 M336,695 L336.2,697.4 M355.4,685.3 L355.6,687.6 L364.6,688.8 Q367.2,687.6 366.6,685.2" fill="none" stroke="#222" stroke-width="1"/>
<path d="M320.6,684.6 L341.8,673.2" stroke="#222" stroke-width="3" stroke-linecap="round" fill="none"/>
<path d="M320.6,684.6 L341.8,673.2" stroke="#fff" stroke-width="1.1" stroke-linecap="round" fill="none"/>
<ellipse cx="352.4" cy="676.1" rx="1.6" ry="1.2" fill="#333"/>
<ellipse cx="324.6" cy="693.4" rx="1.5" ry="1.1" fill="#333"/>
<path d="M366.4,687.2 L373.0,687.2" class="th"/>
<path d="M323.7,603.0 L323.7,716.0" class="th"/>
<path d="M318.09999999999997,719.1999999999999 L320.7,716.4 L326.7,716.4 L329.3,719.1999999999999 L328.3,723.0 Q323.7,725.6 319.09999999999997,723.0 Z" fill="#f2f2f2" stroke="#222" stroke-width="1.1"/>
<ellipse cx="323.7" cy="719.6" rx="3.4" ry="2.3" fill="#bbb" stroke="#222" stroke-width="1"/>
<ellipse cx="323.7" cy="719.6" rx="1.5" ry="1" fill="#333"/>
<path d="M329.2,720.4 L337.5,720.4" class="th"/>
<path d="M338.7,516 L338.7,604" class="dsh" />
<path d="M314.2,617.5 L329.4,627.1 L329.4,639.4 L314.2,629.8 Z" fill="#fff" stroke="#222" stroke-width="1.4" stroke-linejoin="round"/>
<path d="M329.4,627.1 L337.6,622.8 Q339.2,628.8 343.1,619.9 L348.0,617.4 Q350.3,623.0 354.9,613.8 L362.1,610.0 L362.1,620.8 L329.4,639.4 Z" fill="#fff" stroke="#222" stroke-width="1.4" stroke-linejoin="round"/>
<path d="M327.9,610.3 L343.1,619.9 L343.1,624.7 L327.9,615.1 Z" fill="#fff" stroke="#222" stroke-width="1" stroke-linejoin="round"/>
<path d="M325.9,617.1 L340.4,627.2" stroke="#555" stroke-width="0.8" fill="none"/>
<path d="M339.7,604.2 L354.9,613.8 L354.9,618.6 L339.7,609.0 Z" fill="#fff" stroke="#222" stroke-width="1" stroke-linejoin="round"/>
<path d="M337.0,611.2 L351.5,621.4" stroke="#555" stroke-width="0.8" fill="none"/>
<path d="M314.2,617.5 L329.4,627.1 L337.6,622.8 L322.4,613.2 Z" fill="#fff" stroke="#222" stroke-width="1.2" stroke-linejoin="round"/>
<path d="M327.9,610.3 L343.1,619.9 L348.0,617.4 L332.8,607.8 Z" fill="#fff" stroke="#222" stroke-width="1.2" stroke-linejoin="round"/>
<path d="M339.7,604.2 L354.9,613.8 L362.1,610.0 L346.9,600.4 Z" fill="#fff" stroke="#222" stroke-width="1.2" stroke-linejoin="round"/>
<ellipse cx="325.7" cy="620.2" rx="2.2" ry="1.5" fill="#fff" stroke="#222" stroke-width="1"/>
<ellipse cx="350.9" cy="607.1" rx="2.2" ry="1.5" fill="#fff" stroke="#222" stroke-width="1"/>
<path d="M328.3,627.6 L328.3,638.3" stroke="#444" stroke-width="0.9" fill="none"/>
<path d="M324.8,589.2 L324.5,601.2" stroke="#222" stroke-width="3.4" fill="none"/>
<path d="M324.8,591.2 L324.5,601.2" stroke="#aaa" stroke-width="1.6" stroke-dasharray="0.8 1" fill="none"/>
<ellipse cx="324.8" cy="587.2" rx="5.6" ry="3.1" fill="#fff" stroke="#222" stroke-width="1.2"/>
<path d="M317.3,593.2 L322.0,593.2" class="th"/>
<path d="M361.8,617.6 L368.7,617.6" class="th"/>
<path d="M372.4,367.7 L415,390.2" class="ph" />
<path d="M366.2,374.7 L406.5,397.2" class="ph" />
<path d="M366.6,366.4 Q369.4,363.4 371.6,366.6 M365.2,368.6 L366.4,374.6 M368.4,366 L369.6,372.8 M371.2,367 L372.4,373.4" fill="none" stroke="#333" stroke-width="1.1"/>
<path d="M411.3,400.4 L432.7,384.6 M433.8,384.6 L455.2,398.2 M437.2,408.3 L454.1,400.4 M418,405 L436,409.6" class="ph" />
<path d="M416.6,402.4 L438.4,387.4 M440,388.6 L451,396.4" class="ph" />
<path d="M426,395 L434,402 M430,392 L438,398" class="ph" />
<path d="M405.7,401.0 A3.3,2.8049999999999997 0 1 1 411.0,402.6" fill="none" stroke="#2e2e2e" stroke-width="1.15"/>
<path d="M407.4,400.7 A1.5,1.1 0 1 1 410.3,401.0" fill="none" stroke="#333" stroke-width="0.9"/>
<path d="M413.6,405.5 A3.3,2.8049999999999997 0 1 1 418.9,407.1" fill="none" stroke="#2e2e2e" stroke-width="1.15"/>
<path d="M415.2,405.2 A1.5,1.1 0 1 1 418.2,405.5" fill="none" stroke="#333" stroke-width="0.9"/>
<path d="M429.9,383.6 A3.3,2.8049999999999997 0 1 1 435.2,385.2" fill="none" stroke="#2e2e2e" stroke-width="1.15"/>
<path d="M431.6,383.3 A1.5,1.1 0 1 1 434.5,383.6" fill="none" stroke="#333" stroke-width="0.9"/>
<path d="M439.0,387.5 A3.3,2.8049999999999997 0 1 1 444.3,389.1" fill="none" stroke="#2e2e2e" stroke-width="1.15"/>
<path d="M440.7,387.2 A1.5,1.1 0 1 1 443.6,387.5" fill="none" stroke="#333" stroke-width="0.9"/>
<path d="M451.9,399.3 A3.3,2.8049999999999997 0 1 1 457.2,400.9" fill="none" stroke="#2e2e2e" stroke-width="1.15"/>
<path d="M453.6,399.0 A1.5,1.1 0 1 1 456.5,399.3" fill="none" stroke="#333" stroke-width="0.9"/>
<path d="M432.2,410.0 A3.3,2.8049999999999997 0 1 1 437.5,411.6" fill="none" stroke="#2e2e2e" stroke-width="1.15"/>
<path d="M433.9,409.7 A1.5,1.1 0 1 1 436.8,410.0" fill="none" stroke="#333" stroke-width="0.9"/>
<path d="M431,399 Q429,394 433,393.6 Q437,394.4 436,399 M428.6,402 Q432,404.6 436.6,403.4" fill="none" stroke="#333" stroke-width="0.9"/>
<path d="M423,393 L419,392 L415,395 M421,398 L425.6,399.6" fill="none" stroke="#333" stroke-width="0.9"/>
<path d="M410.7,398.1 L431,389 M415.8,405.7 L440,402 M431,386 L433.6,409 M441,388.4 L449,404 M420,396 Q424,390 428,394" fill="none" stroke="#333" stroke-width="0.9"/>
<path d="M426,403 L426,416 M437,405 L437,420 M446,401 L446,414" class="ph" />
<path d="M405.6,401.5 L405.6,418.5 Q406.2,421.6 409,421.8 L450.7,438.7" class="ph" />
<path d="M411.3,410 L411.3,421" class="ph" />
<path d="M416.3,406 L416.3,415.4 L428,420" class="ph" />
<path d="M421,408 L421,417" class="ph" />
<path d="M430.4,411 L430.4,423 M436,412 L436,426" class="ph" />
<path d="M442,405 Q446,402 445,410 L445,432" class="ph" />
<path d="M453,412 L453,440" class="ph" />
<path d="M409,386.9 L425.9,394.2" class="ph" />
<path d="M447.6,445.6 Q444.4,443.6 444.6,447.6 Q445.6,450.6 448.4,448.8" fill="none" stroke="#333" stroke-width="1.1"/>
<path d="M444.4,441 L444.4,454 Q445,458 449,459" class="ph" />
<path d="M450.6,457 L459.6,461.4 M451.4,459.6 L460.6,464.2" fill="none" stroke="#333" stroke-width="1.1"/>
<path d="M444.6,459.8 Q446,463 450,462.6" fill="none" stroke="#333" stroke-width="1.0"/>
<path d="M466,457 Q466.6,454.4 470,454.4 Q473.6,454.6 474,457 Q473.4,459.4 470,459.4 Q466.8,459.2 466,457 Z" fill="none" stroke="#333" stroke-width="1.1"/>
<path d="M466,457 L466,465 Q468,467.6 472,467 L474,465.6 L474,457" fill="none" stroke="#333" stroke-width="1.0"/>
<path d="M459.6,466.2 Q464,470.6 470,472 Q474.6,472.4 476,470" fill="none" stroke="#333" stroke-width="1.1"/>
<path d="M476,466.4 L496,467.4 M478,470.6 L500,471" class="ph" />
<path d="M478,460.2 L490,460.2 M480,456.6 L486,457" class="ph" />
<ellipse cx="473.6" cy="401" rx="6.8" ry="5.4" fill="none" stroke="#333" stroke-width="1.1"/>
<ellipse cx="473.6" cy="399.6" rx="4.2" ry="3.1" fill="none" stroke="#333" stroke-width="1"/>
<path d="M470.4,398.4 L476.6,401.4 M471.4,401.8 L476.6,398" fill="none" stroke="#333" stroke-width="1"/>
<path d="M466.8,402 L466.8,415 M480.4,402 L480.4,412" class="ph" />
<path d="M462,406 Q461,400 466,398" class="ph" />
<path d="M469.9,420 Q469.9,414.7 474,414.7 L483,414.7 Q486.8,414.7 486.8,419 L486.8,462.6" class="ph" />
<path d="M465.6,414.7 L465.6,462.6" class="ph" />
<path d="M472,417 L472,456 M476,420 L476,450" class="ph" />
<path d="M475.2,431 L476.8,437.8 L478.4,431 M487,421 L489,428 L490.6,421" fill="none" stroke="#333" stroke-width="0.9"/>
<path d="M469.9,458 Q472,453.6 476,455.6 L476,462 M466,464.6 L486.8,466.4" class="ph" />
<path d="M489.6,409.1 Q496,425 502.3,441.5 Q510,452 524.8,457 L535,460" class="ph" />
<path d="M492.4,440.2 L497.4,435.8 L502.3,440 L497.4,444.3 Z" class="ph" />
<path d="M492.4,448.5 L492.4,460 L500.8,465.4 M492.4,448.5 L500,450" class="ph" />
<path d="M505,421.0 L505,448.0" class="ph" />
<path d="M508.5,421.5 L508.5,448.7" class="ph" />
<path d="M512,422.1 L512,449.4" class="ph" />
<path d="M516,422.6 L516,450.2" class="ph" />
<path d="M519.5,423.2 L519.5,450.9" class="ph" />
<path d="M523,423.7 L523,451.6" class="ph" />
<path d="M527,424.3 L527,452.4" class="ph" />
<path d="M531,424.9 L531,453.2" class="ph" />
<path d="M535,425.5 L535,454.0" class="ph" />
<path d="M512,407 L524.8,404.9 L526,420 L514,423.2 Z" class="ph" />
<path d="M504,412 L510,410 M528,408 L534,412" class="ph" />
<path d="M538.9,411 L544,424 L551.5,411 M541,416 L549,416" class="ph" />
<path d="M541,430 L541,451" class="ph" />
<path d="M543.5,430 L543.5,451" class="ph" />
<path d="M546,430 L546,451" class="ph" />
<path d="M548.5,430 L548.5,451" class="ph" />
<path d="M551,430 L551,451" class="ph" />
<path d="M527,446 L537,446 L540,455 L530,457 Z" class="ph" />
<path d="M503,466 L515,470 L530,466 M505,474 L535,478" class="ph" />
<path d="M510,458 L520,462 M498,462 L505,466" class="ph" />
<ellipse cx="528" cy="389.7" rx="21" ry="10.5" fill="none" stroke="#333" stroke-width="1" stroke-dasharray="5 1.2"/>
<path d="M520.6,385 L520.6,392.6 L527.6,396 L535.6,392.6 L535.6,385 L527.6,381.6 Z" fill="none" stroke="#333" stroke-width="1.1"/>
<path d="M520.6,385 L527.6,388.6 L535.6,385 M527.6,388.6 L527.6,396" fill="none" stroke="#333" stroke-width="1"/>
<ellipse cx="528" cy="391.4" rx="9.6" ry="5.2" fill="none" stroke="#333" stroke-width="1"/>
<path d="M523.6,381.6 L523.6,375.6 L527.6,373.6 L531.6,375.6 L531.6,381.6 M527.6,373.6 L527.6,369.6 M525,369.6 L530.4,369.6" fill="none" stroke="#333" stroke-width="1"/>
<path d="M522,375.6 Q520.6,377 521.4,380" fill="none" stroke="#333" stroke-width="0.9"/>
<path d="M510.9,383.2 L500.5,380.0 M508.7,385.7 L498.3,382.4" fill="none" stroke="#333" stroke-width="1" stroke-dasharray="4 1.4"/>
<path d="M520.1,379.8 L514.4,374.0 M516.2,381.1 L510.6,375.3" fill="none" stroke="#333" stroke-width="1" stroke-dasharray="4 1.4"/>
<path d="M539.8,381.1 L545.4,375.3 M535.9,379.8 L541.6,374.0" fill="none" stroke="#333" stroke-width="1" stroke-dasharray="4 1.4"/>
<path d="M547.3,385.7 L557.7,382.4 M545.1,383.2 L555.5,380.0" fill="none" stroke="#333" stroke-width="1" stroke-dasharray="4 1.4"/>
<path d="M549.1,389.6 L561.0,388.7 M548.5,386.9 L560.4,385.9" fill="none" stroke="#333" stroke-width="1" stroke-dasharray="4 1.4"/>
<path d="M548.1,393.3 L559.8,394.6 M549.0,390.5 L560.7,391.9" fill="none" stroke="#333" stroke-width="1" stroke-dasharray="4 1.4"/>
<path d="M543.9,396.9 L553.8,400.6 M546.5,394.6 L556.3,398.3" fill="none" stroke="#333" stroke-width="1" stroke-dasharray="4 1.4"/>
<path d="M516.2,398.3 L510.6,404.1 M520.1,399.6 L514.4,405.4" fill="none" stroke="#333" stroke-width="1" stroke-dasharray="4 1.4"/>
<path d="M508.7,393.7 L498.3,397.0 M510.9,396.2 L500.5,399.4" fill="none" stroke="#333" stroke-width="1" stroke-dasharray="4 1.4"/>
<path d="M506.9,389.2 L494.9,389.8 M507.3,392.0 L495.3,392.6" fill="none" stroke="#333" stroke-width="1" stroke-dasharray="4 1.4"/>
<path d="M529.5,400.3 L531.6,406.7 M533.8,399.8 L535.9,406.2" fill="none" stroke="#333" stroke-width="1" stroke-dasharray="4 1.4"/>
<path d="M501.3,369.6 L505.6,368 L513.5,378.8 M511,375 L507,379" fill="none" stroke="#333" stroke-width="1"/>
<path d="M537.8,372 L546,366 L556,370 L546,381" fill="none" stroke="#333" stroke-width="1"/>
<path d="M495,383 Q493,374 500,372" fill="none" stroke="#333" stroke-width="1"/>
<path d="M497,392 L503,404 L509,402" class="ph" />
<path d="M517,398 L522,410 M533,400 L540,408 L548,404" class="ph" />
<path d="M549,388 L560,385 M550,393 L562,392 M548,397 L558,402" class="ph" />
<path d="M482.1,368.6 L495.6,375.4" class="th"/>
<path d="M566.6,408.6 L580.8,404.5 L599.2,418.8 L599.2,447.4 L587,457.6 L566.6,455.6 Z" class="ph" />
<path d="M560,412 L560,450 L566.6,455.6" class="ph" />
<path d="M562,396 Q566,390 574,392 L580,396" class="ph" />
<path d="M560,384 Q566,379 574,383 M565,389 Q572,385 580,389 M576,395 Q583,391 588,396" class="ph" />
<circle cx="573" cy="411" r="2.4" fill="none" stroke="#333" stroke-width="1" stroke-dasharray="2.6 1.1"/>
<circle cx="593" cy="420" r="2.4" fill="none" stroke="#333" stroke-width="1" stroke-dasharray="2.6 1.1"/>
<circle cx="590.5" cy="433" r="2.8" fill="none" stroke="#333" stroke-width="1" stroke-dasharray="2.6 1.1"/>
<circle cx="578.8" cy="452.5" r="4.6" fill="none" stroke="#333" stroke-width="1" stroke-dasharray="2.6 1.1"/>
<circle cx="578.8" cy="452.5" r="2.2" fill="none" stroke="#333" stroke-width="1" stroke-dasharray="2.6 1.1"/>
<circle cx="571" cy="426" r="2.2" fill="none" stroke="#333" stroke-width="1" stroke-dasharray="2.6 1.1"/>
<path d="M583,428 L583,446 L595,446 M587,436 L595,436" class="ph" />
<path d="M568,460 Q575,466 584,463" class="ph" />
<path d="M568,430 L568,448 M575,418 L575,440" class="ph" />
<path d="M602,420 Q606,424 604,430" class="ph" />
<path d="M558.4,480 L578,474 L609.4,478 L610.5,510.7 L587,521 L558.4,506.6 Z" class="ph" />
<path d="M565,486 L565,508 M575,483 L575,514 M590,482 L590,512 M600,484 L600,508 M570,488 L570,510 M595,484 L595,510" class="ph" />
<path d="M568,492 L598,488 M570,498 L604,494" class="ph" />
<path d="M580,486 L592,500 M590,486 L578,500" class="ph" />
<circle cx="566" cy="484" r="2.1" fill="none" stroke="#333" stroke-width="1"/>
<circle cx="586" cy="480" r="2.1" fill="none" stroke="#333" stroke-width="1"/>
<circle cx="603" cy="483" r="2.1" fill="none" stroke="#333" stroke-width="1"/>
<circle cx="590" cy="505" r="2.1" fill="none" stroke="#333" stroke-width="1"/>
<circle cx="572" cy="500" r="2.1" fill="none" stroke="#333" stroke-width="1"/>
<path d="M560,468 L575,472 M565,462 L580,468" class="ph" />
<path d="M601.3,496.5 L650,523" class="ph" />
<path d="M599,503 L648,530.5" class="ph" />
<path d="M612,507 L642,523.4" class="ph" />
<path d="M645.6,523.6 L644.6,530.6 M648.6,524.2 L647.6,531.2 M650,523 Q654,527 650.6,531.6" fill="none" stroke="#333" stroke-width="1.1"/>
<path d="M620,509 L626,504 M630,515 L636,511" class="ph" />
<path d="M467.6,467.3 L558.4,500" class="ph" />
<path d="M497,468.8 L556,490" class="ph" />
<path d="M535,460 L556,468" class="ph" />
<path d="M599,447 L615,455" class="ph" />
<path d="M528,473 L542,482" class="ph" />
<path d="M512,478 L556,494" class="ph" />
<path d="M455,418 L462,420 M456,426 L463,428 M455,434 L462,436" class="ph" />
<path d="M478,420 L478,452 M482,424 L482,448" class="ph" />
<path d="M488,400 Q492,396 498,398 L504,404" class="ph" />
<path d="M560,440 L566,444 M558,462 L566,466" class="ph" />
<path d="M505,440 L512,444 L512,452 M528,436 L536,440" class="ph" />
<path d="M490,470 L500,476 M520,476 L532,482" class="ph" />
<path d="M455,452 Q452,450 453,455 L456,458" fill="none" stroke="#333" stroke-width="1"/>
<path d="M575,462 L590,468 M590,458 L598,452" class="ph" />
<path d="M548,478 L556,482 M548,486 L556,490" class="ph" />
<rect x="171.9" y="81.8" width="18.4" height="14.9" class="lb"/>
<text transform="translate(181.10 95.20) scale(0.94 1)" class="lt">24</text>
<rect x="146.8" y="99.6" width="18.4" height="14.9" class="lb"/>
<text transform="translate(156.00 113.00) scale(0.94 1)" class="lt">23</text>
<rect x="148.1" y="149.9" width="18.4" height="14.9" class="lb"/>
<text transform="translate(157.30 163.30) scale(0.94 1)" class="lt">22</text>
<rect x="234.9" y="152.6" width="18.4" height="14.9" class="lb"/>
<text transform="translate(244.10 166.00) scale(0.94 1)" class="lt">21</text>
<rect x="172.1" y="178.5" width="18.4" height="14.9" class="lb"/>
<text transform="translate(181.30 191.90) scale(0.94 1)" class="lt">20</text>
<rect x="41.9" y="233.0" width="18.4" height="14.9" class="lb"/>
<text transform="translate(51.10 246.40) scale(0.94 1)" class="lt">28</text>
<rect x="82.3" y="253.2" width="18.4" height="14.9" class="lb"/>
<text transform="translate(91.50 266.60) scale(0.94 1)" class="lt">27</text>
<rect x="102.6" y="272.2" width="18.4" height="14.9" class="lb"/>
<text transform="translate(111.80 285.60) scale(0.94 1)" class="lt">26</text>
<rect x="42.0" y="302.5" width="18.4" height="14.9" class="lb"/>
<text transform="translate(51.20 315.90) scale(0.94 1)" class="lt">29</text>
<rect x="180.7" y="269.6" width="18.4" height="14.9" class="lb"/>
<text transform="translate(189.90 283.00) scale(0.94 1)" class="lt">25</text>
<rect x="77.8" y="378.3" width="18.4" height="14.9" class="lb"/>
<text transform="translate(87.00 391.70) scale(0.94 1)" class="lt">30</text>
<rect x="72.2" y="415.1" width="18.4" height="14.9" class="lb"/>
<text transform="translate(81.40 428.50) scale(0.94 1)" class="lt">31</text>
<rect x="132.8" y="375.5" width="18.4" height="14.9" class="lb"/>
<text transform="translate(142.00 388.90) scale(0.94 1)" class="lt">39</text>
<rect x="185.0" y="331.0" width="18.4" height="14.9" class="lb"/>
<text transform="translate(194.20 344.40) scale(0.94 1)" class="lt">37</text>
<rect x="203.3" y="340.6" width="18.4" height="14.9" class="lb"/>
<text transform="translate(212.50 354.00) scale(0.94 1)" class="lt">38</text>
<rect x="220.7" y="350.7" width="18.4" height="14.9" class="lb"/>
<text transform="translate(229.90 364.10) scale(0.94 1)" class="lt">36</text>
<rect x="248.9" y="346.7" width="18.4" height="14.9" class="lb"/>
<text transform="translate(258.10 360.10) scale(0.94 1)" class="lt">34</text>
<rect x="281.7" y="342.5" width="18.4" height="14.9" class="lb"/>
<text transform="translate(290.90 355.90) scale(0.94 1)" class="lt">41</text>
<rect x="197.9" y="398.0" width="18.4" height="14.9" class="lb"/>
<text transform="translate(207.10 411.40) scale(0.94 1)" class="lt">38</text>
<rect x="217.0" y="407.1" width="18.4" height="14.9" class="lb"/>
<text transform="translate(226.20 420.50) scale(0.94 1)" class="lt">37</text>
<rect x="238.0" y="400.9" width="18.4" height="14.9" class="lb"/>
<text transform="translate(247.20 414.30) scale(0.94 1)" class="lt">39</text>
<rect x="445.0" y="49.0" width="18.4" height="14.9" class="lb"/>
<text transform="translate(454.20 62.40) scale(0.94 1)" class="lt">52</text>
<rect x="414.5" y="65.0" width="18.4" height="14.9" class="lb"/>
<text transform="translate(423.70 78.40) scale(0.94 1)" class="lt">13</text>
<rect x="381.5" y="85.1" width="18.4" height="14.9" class="lb"/>
<text transform="translate(390.70 98.50) scale(0.94 1)" class="lt">11</text>
<rect x="394.5" y="79.2" width="18.4" height="14.9" class="lb"/>
<text transform="translate(403.70 92.60) scale(0.94 1)" class="lt">12</text>
<rect x="434.7" y="92.8" width="18.4" height="14.9" class="lb"/>
<text transform="translate(443.90 106.20) scale(0.94 1)" class="lt">12</text>
<rect x="476.9" y="73.3" width="11.0" height="14.9" class="lb"/>
<text transform="translate(482.40 86.70) scale(0.94 1)" class="lt">6</text>
<rect x="478.9" y="91.0" width="18.4" height="14.9" class="lb"/>
<text transform="translate(488.10 104.40) scale(0.94 1)" class="lt">15</text>
<rect x="583.1" y="85.4" width="18.4" height="14.9" class="lb"/>
<text transform="translate(592.30 98.80) scale(0.94 1)" class="lt">18</text>
<rect x="480.5" y="133.3" width="11.0" height="14.9" class="lb"/>
<text transform="translate(486.00 146.70) scale(0.94 1)" class="lt">5</text>
<rect x="423.9" y="178.8" width="18.4" height="14.9" class="lb"/>
<text transform="translate(433.10 192.20) scale(0.94 1)" class="lt">55</text>
<rect x="483.0" y="193.0" width="18.4" height="14.9" class="lb"/>
<text transform="translate(492.20 206.40) scale(0.94 1)" class="lt">53</text>
<rect x="481.3" y="218.8" width="18.4" height="14.9" class="lb"/>
<text transform="translate(490.50 232.20) scale(0.94 1)" class="lt">16</text>
<rect x="442.3" y="368.3" width="18.4" height="14.9" class="lb"/>
<text transform="translate(451.50 381.70) scale(0.94 1)" class="lt">54</text>
<rect x="630.4" y="433.8" width="18.4" height="14.9" class="lb"/>
<text transform="translate(639.60 447.20) scale(0.94 1)" class="lt">41</text>
<rect x="469.8" y="561.7" width="18.4" height="14.9" class="lb"/>
<text transform="translate(479.00 575.10) scale(0.94 1)" class="lt">40</text>
<rect x="279.3" y="476.9" width="11.0" height="14.9" class="lb"/>
<text transform="translate(284.80 490.30) scale(0.94 1)" class="lt">7</text>
<rect x="251.9" y="492.9" width="11.0" height="14.9" class="lb"/>
<text transform="translate(257.40 506.30) scale(0.94 1)" class="lt">6</text>
<rect x="272.0" y="507.6" width="11.0" height="14.9" class="lb"/>
<text transform="translate(277.50 521.00) scale(0.94 1)" class="lt">9</text>
<rect x="234.0" y="502.2" width="11.0" height="14.9" class="lb"/>
<text transform="translate(239.50 515.60) scale(0.94 1)" class="lt">7</text>
<rect x="313.0" y="538.3" width="18.4" height="14.9" class="lb"/>
<text transform="translate(322.20 551.70) scale(0.94 1)" class="lt">10</text>
<rect x="367.3" y="549.8" width="11.0" height="14.9" class="lb"/>
<text transform="translate(372.80 563.20) scale(0.94 1)" class="lt">1</text>
<rect x="270.7" y="563.7" width="18.4" height="14.9" class="lb"/>
<text transform="translate(279.90 577.10) scale(0.94 1)" class="lt">51</text>
<rect x="193.9" y="518.1" width="11.0" height="14.9" class="lb"/>
<text transform="translate(199.40 531.50) scale(0.94 1)" class="lt">3</text>
<rect x="189.2" y="555.5" width="11.0" height="14.9" class="lb"/>
<text transform="translate(194.70 568.90) scale(0.94 1)" class="lt">2</text>
<rect x="229.7" y="618.0" width="11.0" height="14.9" class="lb"/>
<text transform="translate(235.20 631.40) scale(0.94 1)" class="lt">4</text>
<rect x="233.1" y="638.8" width="18.4" height="14.9" class="lb"/>
<text transform="translate(242.30 652.20) scale(0.94 1)" class="lt">14</text>
<rect x="306.5" y="589.7" width="11.0" height="14.9" class="lb"/>
<text transform="translate(312.00 603.10) scale(0.94 1)" class="lt">3</text>
<rect x="369.2" y="611.2" width="11.0" height="14.9" class="lb"/>
<text transform="translate(374.70 624.60) scale(0.94 1)" class="lt">2</text>
<rect x="373.5" y="681.5" width="18.4" height="14.9" class="lb"/>
<text transform="translate(382.70 694.90) scale(0.94 1)" class="lt">35</text>
<rect x="338.0" y="714.0" width="11.0" height="14.9" class="lb"/>
<text transform="translate(343.50 727.40) scale(0.94 1)" class="lt">4</text>
</svg></body></html>
